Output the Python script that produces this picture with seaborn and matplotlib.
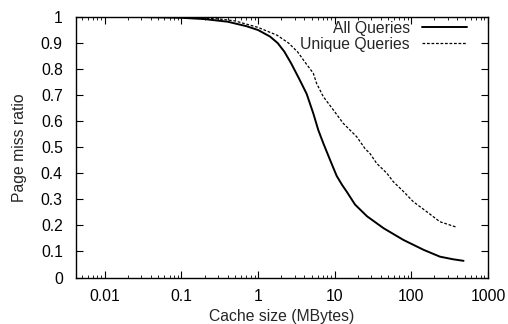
import numpy as np
import pandas as pd
import matplotlib
matplotlib.use("Agg")
import matplotlib.pyplot as plt
import seaborn as sns
from matplotlib.ticker import FixedLocator, LogLocator, NullFormatter

# ---- data ----
all_x = [0.0042, 0.03, 0.1, 0.2, 0.4, 0.7, 1.0, 1.43, 1.8, 2.2, 2.7, 3.5, 4.3, 5.25,
         6.1, 7.1, 8.7, 10.6, 12.5, 14.3, 18.4, 26.4, 43.5, 79, 145, 236, 350, 480]
all_y = [1.0, 1.0, 0.997, 0.992, 0.982, 0.965, 0.95, 0.925, 0.9, 0.867, 0.822, 0.758,
         0.705, 0.63, 0.566, 0.515, 0.451, 0.39, 0.355, 0.33, 0.28, 0.235, 0.189,
         0.144, 0.106, 0.08, 0.07, 0.064]

uniq_x = [0.0042, 0.05, 0.1, 0.3, 0.5, 1.0, 1.77, 2.5, 3.3, 3.9, 5.25, 5.8, 7.1, 9.6,
          12.9, 19.4, 24.8, 29, 35.3, 48, 58, 79, 106, 158, 236, 390]
uniq_y = [1.0, 1.0, 0.998, 0.993, 0.985, 0.96, 0.93, 0.90, 0.865, 0.835, 0.784, 0.745,
          0.694, 0.643, 0.592, 0.54, 0.495, 0.475, 0.438, 0.40, 0.368, 0.33, 0.291,
          0.253, 0.214, 0.193]

series_names = ["All Queries", "Unique Queries"]
x_ticks = [0.01, 0.1, 1, 10, 100, 1000]
x_tick_labels = ["0.01", "0.1", "1", "10", "100", "1000"]
y_ticks = [0, 0.1, 0.2, 0.3, 0.4, 0.5, 0.6, 0.7, 0.8, 0.9, 1.0]
y_tick_labels = ["0", "0.1", "0.2", "0.3", "0.4", "0.5", "0.6", "0.7", "0.8", "0.9", "1"]

df = pd.concat([
    pd.DataFrame({"size": all_x, "ratio": all_y, "series": series_names[0]}),
    pd.DataFrame({"size": uniq_x, "ratio": uniq_y, "series": series_names[1]}),
])

sns.set_style("ticks")
plt.rcParams["font.family"] = ["Liberation Sans", "DejaVu Sans"]
FS = 11.3

fig = plt.figure(figsize=(5.08, 3.24), dpi=100)
ax = fig.add_axes([0.1496, 0.1435, 0.811, 0.804])

sns.lineplot(data=df, x="size", y="ratio", hue="series", style="series",
             palette=["black", "black"], dashes=[(None, None), (2.2, 1.4)],
             sort=False, estimator=None, ax=ax, legend=False)
lines = ax.get_lines()
lines[0].set_linewidth(1.4)
lines[1].set_linewidth(0.9)

ax.set_xscale("log")
ax.set_xlim(0.0042, 1000)
ax.set_ylim(0, 1)
ax.xaxis.set_major_locator(FixedLocator(x_ticks))
ax.set_xticklabels(x_tick_labels)
ax.xaxis.set_minor_locator(LogLocator(base=10, subs=np.arange(2, 10)))
ax.xaxis.set_minor_formatter(NullFormatter())
ax.set_yticks(y_ticks)
ax.set_yticklabels(y_tick_labels)

for s in ax.spines.values():
    s.set_visible(True)
    s.set_linewidth(1.0)
    s.set_color("black")
ax.tick_params(which="both", direction="in", top=True, right=True,
               labelsize=FS, colors="black")
ax.tick_params(axis="x", which="major", pad=8)
ax.tick_params(axis="y", which="major", pad=9.5)
ax.tick_params(which="major", length=5, width=0.8)
ax.tick_params(which="minor", length=2.5, width=0.6)

ax.set_xlabel("Cache size (MBytes)", fontsize=FS, labelpad=4)
ax.set_ylabel("Page miss ratio", fontsize=FS, labelpad=10)

leg = ax.legend(lines, series_names, loc="upper right", bbox_to_anchor=(0.95, 0.985),
                frameon=False, markerfirst=False, fontsize=FS, handlelength=2.9,
                handletextpad=0.75, labelspacing=0.05, borderpad=0, borderaxespad=0)
for t in leg.get_texts():
    t.set_ha("right")

fig.savefig("out.png", dpi=100)
